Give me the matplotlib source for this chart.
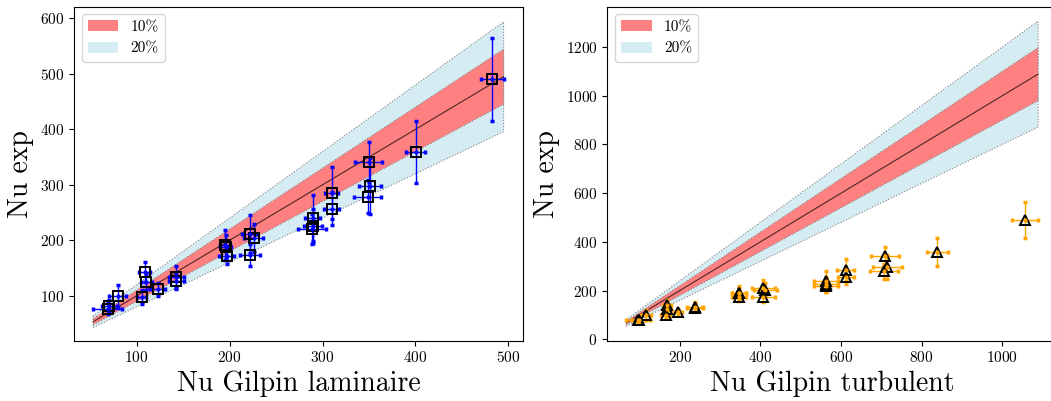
import numpy as np
import matplotlib
matplotlib.use("Agg")
import matplotlib.pyplot as plt
from matplotlib.patches import Patch

plt.rcParams['font.family'] = 'serif'
plt.rcParams['font.serif'] = ['cmr10']
plt.rcParams['mathtext.fontset'] = 'cm'
plt.rcParams['axes.formatter.use_mathtext'] = True
plt.rcParams['axes.unicode_minus'] = False

# Experimental Nusselt numbers (shared by both panels)
nu_exp = [77, 81, 100, 98, 142, 125, 111.5, 134, 126.5, 191, 188, 172, 211, 204, 174,
          240, 225.6, 219.6, 284.5, 257, 341, 298, 278.4, 358.5, 490]
nu_exp_err = [10, 12, 20, 12, 18, 15, 12, 20, 15, 27, 22, 15, 34, 25, 20,
              42, 30, 27, 47, 30, 36, 50, 30, 56, 75]

# Gilpin correlations
nu_lam = [68.8, 70.5, 79.6, 105.4, 108.6, 110.3, 122.6, 142.6, 142.6, 195, 196, 197,
          221.8, 225.8, 221.8, 289.6, 289.6, 288.8, 310, 310, 349.5, 350.9, 348.4, 400.3, 482.8]
nu_lam_err = [15.5, 8, 9, 5, 6, 6, 8, 8, 8, 5, 6, 8, 8, 10, 11, 8, 10, 15, 7, 8, 14.5, 12, 15, 10, 12]

nu_turb = [96.5, 97.5, 115.6, 164.5, 168.5, 168.5, 195, 237, 237, 347, 347, 347,
           407, 412, 407, 562, 563, 563, 612, 612, 709.5, 714.5, 707, 839.4, 1057]
nu_turb_err = [29, 15, 12, 10, 10, 10, 10, 20, 20, 18, 18, 18, 28, 28, 28,
               30, 30, 30, 21, 20, 35, 36, 35, 27, 32]

RED = '#ff8080'    # red at alpha 0.5 on white
BLUE = '#d6ecf3'   # lightblue at alpha 0.5 on white


def draw_panel(ax, x, xerr, y, yerr, color, marker, xlabel):
    x = np.array(x)
    xerr = np.array(xerr)
    xx = np.linspace((x - xerr).min(), (x + xerr).max(), 100)
    ax.fill_between(xx, 0.8 * xx, 1.2 * xx, facecolor=BLUE,
                    edgecolor='gray', linestyle=':', linewidth=0.8)
    ax.fill_between(xx, 0.9 * xx, 1.1 * xx, facecolor=RED,
                    edgecolor='gray', linestyle=':', linewidth=0.8)
    ax.plot(xx, xx, color='black', lw=0.8, alpha=0.7)
    ax.errorbar(x, y, xerr=xerr, yerr=yerr, fmt='o', ms=2, color=color,
                ecolor=color, elinewidth=1, capsize=1.5, capthick=2.5)
    ax.plot(x, y, marker, mfc='none', mec='black', ms=7.5, mew=1.4, ls='none')
    ax.set_xlabel(xlabel, fontsize=20)
    ax.set_ylabel('Nu exp', fontsize=20)
    ax.tick_params(labelsize=11)
    handles = [Patch(facecolor=RED, label='10%'),
               Patch(facecolor=BLUE, label='20%')]
    ax.legend(handles=handles, loc='upper left', fontsize=11)


fig = plt.figure(figsize=(10.51, 4.01), dpi=100)
ax1 = fig.add_axes([74 / 1051, 60.3 / 401, 449.3 / 1051, 334 / 401])
ax2 = fig.add_axes([607.3 / 1051, 60.3 / 401, 449.7 / 1051, 334 / 401])

draw_panel(ax1, nu_lam, nu_lam_err, nu_exp, nu_exp_err, 'blue', 's', 'Nu Gilpin laminaire')
ax1.set_xlim(32.6, 516)
ax1.set_ylim(19, 621)

draw_panel(ax2, nu_turb, nu_turb_err, nu_exp, nu_exp_err, 'orange', '^', 'Nu Gilpin turbulent')
ax2.set_xlim(20, 1136)
ax2.set_ylim(-6, 1366)

fig.savefig('out.png', dpi=100)
